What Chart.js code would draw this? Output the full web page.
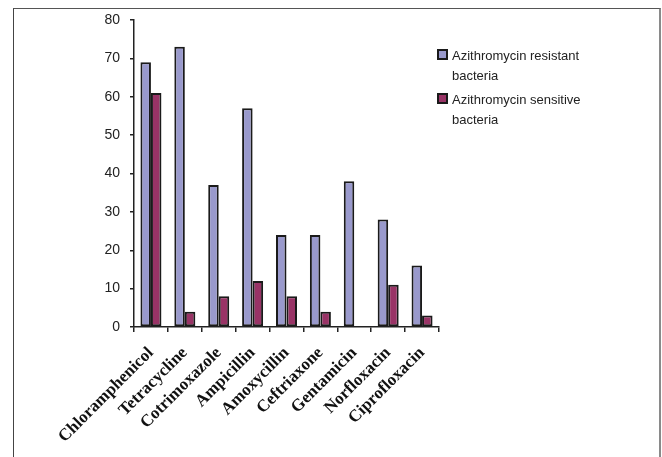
<!DOCTYPE html>
<html>
<head>
<meta charset="utf-8">
<script src="https://cdn.jsdelivr.net/npm/chart.js@4/dist/chart.umd.min.js"></script>
<style>
  html, body { margin: 0; padding: 0; background: #fff; }
  #wrap { position: relative; width: 662px; height: 457px; overflow: hidden; }
  #frame { position: absolute; left: 13px; top: 8px; width: 645px; height: 470px;
           border-left: 1px solid #444; border-top: 1px solid #555; border-right: 2px solid #8a8a8a; }
  canvas { position: absolute; left: 0; top: 0; }
  #legend { position: absolute; left: 437px; top: 46px; font-family: "Liberation Sans", Arial, sans-serif;
            font-size: 13px; color: #222; line-height: 20px; }
  .item { position: relative; padding-left: 15px; margin-bottom: 4px; }
  .sw { position: absolute; left: 0; top: 3px; width: 7px; height: 7px; border: 2px solid #1a1a1a; }
</style>
</head>
<body>
<div id="wrap">
  <div id="frame"></div>
  <canvas id="c" width="662" height="457"></canvas>
  <div id="legend"></div>
</div>
<script>
const categories = ["Chloramphenicol", "Tetracycline", "Cotrimoxazole", "Ampicillin", "Amoxycillin", "Ceftriaxone", "Gentamicin", "Norfloxacin", "Ciprofloxacin"];
const resistant = [69, 73, 37, 57, 24, 24, 38, 28, 16];
const sensitive = [61, 4, 8, 12, 8, 4, 0, 11, 3];
const seriesNames = [["Azithromycin resistant", "bacteria"], ["Azithromycin sensitive", "bacteria"]];
const seriesColors = ["#9999cc", "#993366"];
const yTicks = [0, 10, 20, 30, 40, 50, 60, 70, 80];

const legend = document.getElementById('legend');
seriesNames.forEach((lines, i) => {
  const d = document.createElement('div');
  d.className = 'item';
  const sw = document.createElement('span');
  sw.className = 'sw';
  sw.style.background = seriesColors[i];
  d.appendChild(sw);
  lines.forEach((t, j) => {
    const s = document.createElement('div');
    s.textContent = t;
    d.appendChild(s);
  });
  legend.appendChild(d);
});

new Chart(document.getElementById('c'), {
  type: 'bar',
  data: {
    labels: categories,
    datasets: [
      { label: seriesNames[0].join(' '), data: resistant, backgroundColor: seriesColors[0],
        borderColor: '#1a1a1a', borderWidth: 2, borderSkipped: false },
      { label: seriesNames[1].join(' '), data: sensitive, backgroundColor: seriesColors[1],
        borderColor: '#1a1a1a', borderWidth: 2, borderSkipped: false }
    ]
  },
  options: {
    responsive: false,
    animation: false,
    devicePixelRatio: 1,
    layout: { padding: { left: 0, top: 20, right: 223, bottom: 0 } },
    datasets: { bar: { categoryPercentage: 0.62, barPercentage: 1.0 } },
    plugins: { legend: { display: false }, tooltip: { enabled: false } },
    scales: {
      x: {
        afterFit: s => { s.height = 130; },
        grid: { display: true, drawOnChartArea: false, drawTicks: true, tickLength: 5, color: '#222', lineWidth: 1.5, offset: true },
        border: { display: true, color: '#222', width: 1.5 },
        ticks: { color: '#111', minRotation: 45, maxRotation: 45, padding: 11,
                 font: { family: '"Liberation Serif", "Times New Roman", serif', size: 17, weight: 'bold' } }
      },
      y: {
        min: 0, max: 80,
        afterFit: s => { s.width = 134; },
        afterBuildTicks: s => { s.ticks = yTicks.map(v => ({ value: v })); },
        grid: { display: true, drawOnChartArea: false, drawTicks: true, tickLength: 4, color: '#222', lineWidth: 1.5 },
        border: { display: true, color: '#222', width: 1.5 },
        ticks: { color: '#222', padding: 10, font: { family: '"Liberation Sans", Arial, sans-serif', size: 14 } }
      }
    }
  }
});
</script>
</body>
</html>
